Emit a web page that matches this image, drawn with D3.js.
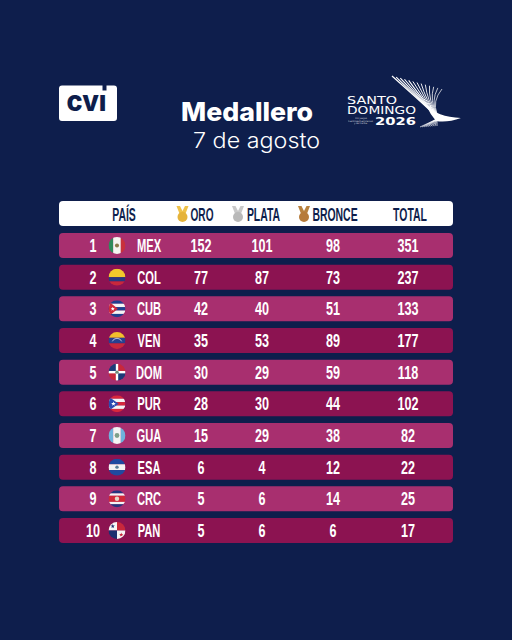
<!DOCTYPE html>
<html>
<head>
<meta charset="utf-8">
<script src="https://cdn.jsdelivr.net/npm/d3@7"></script>
<style>
  html, body { margin: 0; padding: 0; background: #0e1e4c; }
  svg { display: block; }
  .cond { font-family: "Liberation Sans", sans-serif; font-weight: 700; }
</style>
</head>
<body>
<svg id="chart" width="512" height="640"></svg>
<script>
// Table data
const ranks = [1, 2, 3, 4, 5, 6, 7, 8, 9, 10];
const countries = ["MEX", "COL", "CUB", "VEN", "DOM", "PUR", "GUA", "ESA", "CRC", "PAN"];
const oro = [152, 77, 42, 35, 30, 28, 15, 6, 5, 5];
const plata = [101, 87, 40, 53, 29, 30, 29, 4, 6, 6];
const bronce = [98, 73, 51, 89, 59, 44, 38, 12, 14, 6];
const total = [351, 237, 133, 177, 118, 102, 82, 22, 25, 17];
const columns = ["ORO", "PLATA", "BRONCE", "TOTAL"];

const svg = d3.select("#chart");
const navy = "#0e1e4c";

const rowY = d3.scaleBand().domain(countries).range([233, 543]).paddingInner(0.21);
const colX = d3.scaleOrdinal().domain(columns).range([201, 262, 333, 408]);

// condensed look: no narrow face installed, so squeeze in x
function cond(parent, x, y, str, size, fill, sx) {
  return parent.append("text")
    .attr("class", "cond")
    .attr("transform", `translate(${x},${y}) scale(${sx},1)`)
    .attr("text-anchor", "middle")
    .attr("font-size", size)
    .attr("fill", fill)
    .text(str);
}

// title
svg.append("text").attr("x", 247).attr("y", 121).attr("text-anchor", "middle")
  .attr("font-family", "Inter").attr("font-weight", 800).attr("font-size", 26)
  .attr("textLength", 132).attr("lengthAdjust", "spacingAndGlyphs")
  .attr("fill", "#fff").text("Medallero");
svg.append("text").attr("x", 256.5).attr("y", 148).attr("text-anchor", "middle")
  .attr("font-family", "Inter").attr("font-weight", 300).attr("font-size", 21.5)
  .attr("textLength", 127).attr("lengthAdjust", "spacingAndGlyphs")
  .attr("fill", "#fff").text("7 de agosto");

// cvi logo
svg.append("path")
  .attr("d", "M62,85.5H102.5v5h4v-5h7.5a3,3 0 0 1 3,3V118a3,3 0 0 1 -3,3H62a3,3 0 0 1 -3,-3V88.5a3,3 0 0 1 3,-3Z")
  .attr("fill", "#fff");
svg.append("text").attr("x", 86.5).attr("y", 110.5).attr("text-anchor", "middle")
  .attr("font-family", "Inter").attr("font-weight", 800).attr("font-size", 28)
  .attr("textLength", 40).attr("lengthAdjust", "spacingAndGlyphs")
  .attr("fill", navy).text("cvı");

// Santo Domingo logo
const logo = svg.append("g");
const logoFont = (x, y, str, size, w) => logo.append("text").attr("x", x).attr("y", y)
  .attr("font-family", "DejaVu Sans").attr("font-size", size)
  .attr("textLength", w).attr("lengthAdjust", "spacingAndGlyphs")
  .attr("fill", "#fff").text(str);
logoFont(347, 104, "SANTO", 9.6, 50);
logoFont(347, 114, "DOMINGO", 9.6, 69);
logo.append("text").attr("x", 375).attr("y", 125).attr("font-family", "DejaVu Sans").attr("font-weight", 700)
  .attr("font-size", 11).attr("textLength", 41).attr("lengthAdjust", "spacingAndGlyphs")
  .attr("fill", "#fff").text("2026");
logoFont(355, 119, "XIV Juegos", 2.2, 12).attr("opacity", 0.75);
logoFont(348, 121.5, "Centroamericanos", 2.2, 25).attr("opacity", 0.75);
logoFont(354, 124, "y del Caribe", 2.2, 13).attr("opacity", 0.75);

// fan strokes of the logo
d3.range(0, 1.001, 1 / 12).forEach(t => {
  const sx = 392 + t * 50, sy = 76 + t * 13;
  logo.append("path")
    .attr("d", `M${sx},${sy}Q${418 + t * 14},${99 + t * 2} ${434 + t * 3},${114}`)
    .attr("stroke", "#fff").attr("stroke-width", 1.2 - t * 0.5).attr("fill", "none");
});
logo.append("path").attr("d", "M426,105Q437,117 461,118Q447,123 436,121Q430,114 426,105Z").attr("fill", "#fff");
d3.range(0, 1.001, 1 / 8).forEach(t => {
  logo.append("path")
    .attr("d", `M${437},${119}L${420 + t * 17},${127 - t * 1}`)
    .attr("stroke", "#fff").attr("stroke-width", 0.7).attr("fill", "none");
});

// header bar
svg.append("rect").attr("x", 59).attr("y", 201).attr("width", 394).attr("height", 25).attr("rx", 4).attr("fill", "#fff");
cond(svg, 124, 220.5, "PAÍS", 18, navy, 0.58);
cond(svg, 202, 220.5, "ORO", 18, navy, 0.56);
cond(svg, 263.5, 220.5, "PLATA", 18, navy, 0.58);
cond(svg, 335, 220.5, "BRONCE", 18, navy, 0.58);
cond(svg, 410, 220.5, "TOTAL", 18, navy, 0.58);

function medal(cx, color, ribbon) {
  const g = svg.append("g").attr("transform", `translate(${cx},${214})`);
  g.append("path").attr("d", "M-6,-8H-2.5L0,-3L2.5,-8H6L2.5,1H-2.5Z").attr("fill", ribbon);
  g.append("circle").attr("cy", 3).attr("r", 5).attr("fill", color);
}
medal(182.5, "#e5b33a", "#efc24a");
medal(238, "#b9b9b9", "#c9c9c9");
medal(304, "#b67a3a", "#b8813f");

// flags, unit circle coordinates scaled by the radius
const flagR = 8.5;
function stripesH(g, cols, heights) {
  let y = -1;
  cols.forEach((c, i) => {
    g.append("rect").attr("x", -1).attr("y", y).attr("width", 2).attr("height", heights[i]).attr("fill", c);
    y += heights[i];
  });
}
function stripesV(g, cols, widths) {
  let x = -1;
  cols.forEach((c, i) => {
    g.append("rect").attr("x", x).attr("y", -1).attr("width", widths[i]).attr("height", 2).attr("fill", c);
    x += widths[i];
  });
}
function star(g, x, y, r, fill) {
  const pts = d3.range(10).map(i => {
    const a = -Math.PI / 2 + i * Math.PI / 5, q = i % 2 ? r * 0.42 : r;
    return [x + q * Math.cos(a), y + q * Math.sin(a)];
  });
  g.append("polygon").attr("points", pts.join(" ")).attr("fill", fill);
}
function emblem(g, fill, r) {
  g.append("circle").attr("r", r || 0.24).attr("fill", fill);
}
function quarters(g, cols) {
  g.append("rect").attr("x", -1).attr("y", -1).attr("width", 1).attr("height", 1).attr("fill", cols[0]);
  g.append("rect").attr("x", 0).attr("y", -1).attr("width", 1).attr("height", 1).attr("fill", cols[1]);
  g.append("rect").attr("x", -1).attr("y", 0).attr("width", 1).attr("height", 1).attr("fill", cols[2]);
  g.append("rect").attr("x", 0).attr("y", 0).attr("width", 1).attr("height", 1).attr("fill", cols[3]);
}
const flagDraw = {
  MEX: g => { stripesV(g, ["#2f8a5b", "#f6f4f0", "#c8303c"], [0.55, 0.9, 0.55]); emblem(g, "#8a7a4a"); },
  COL: g => stripesH(g, ["#f2c82c", "#27397f", "#c8283c"], [1, 0.5, 0.5]),
  CUB: g => {
    stripesH(g, ["#1f3f8f", "#f4f4f4", "#1f3f8f", "#f4f4f4", "#1f3f8f"], [0.4, 0.4, 0.4, 0.4, 0.4]);
    g.append("polygon").attr("points", "-1,-0.9 0.1,0 -1,0.9").attr("fill", "#d0283a");
    star(g, -0.5, 0, 0.26, "#fff");
  },
  VEN: g => {
    stripesH(g, ["#f2c02c", "#27408f", "#c8283c"], [0.68, 0.66, 0.66]);
    g.append("path").attr("d", "M-0.55,0.1A0.6,0.6 0 0 1 0.55,0.1").attr("fill", "none").attr("stroke", "#fff").attr("stroke-width", 0.08);
  },
  DOM: g => {
    quarters(g, ["#1d3a78", "#c8283c", "#c8283c", "#1d3a78"]);
    g.append("rect").attr("x", -1).attr("y", -0.14).attr("width", 2).attr("height", 0.28).attr("fill", "#fff");
    g.append("rect").attr("x", -0.14).attr("y", -1).attr("width", 0.28).attr("height", 2).attr("fill", "#fff");
    emblem(g, "#6f8a78", 0.2);
  },
  PUR: g => {
    stripesH(g, ["#d8283c", "#f4f4f4", "#d8283c", "#f4f4f4", "#d8283c"], [0.4, 0.4, 0.4, 0.4, 0.4]);
    g.append("polygon").attr("points", "-1,-0.85 0.2,0 -1,0.85").attr("fill", "#2b4bb0");
    star(g, -0.42, 0, 0.28, "#fff");
  },
  GUA: g => { stripesV(g, ["#6fb2dc", "#f4f4f4", "#6fb2dc"], [0.55, 0.9, 0.55]); emblem(g, "#7fa08a", 0.28); },
  ESA: g => { stripesH(g, ["#1f4aa0", "#f4f4f4", "#1f4aa0"], [0.66, 0.68, 0.66]); emblem(g, "#5a7f9a", 0.2); },
  CRC: g => {
    stripesH(g, ["#24357f", "#f4f4f4", "#d0283a", "#f4f4f4", "#24357f"], [0.36, 0.28, 0.72, 0.28, 0.36]);
    emblem(g, "#e6d8c8", 0.26);
  },
  PAN: g => {
    quarters(g, ["#f6f6f6", "#c8283c", "#1d2f70", "#f6f6f6"]);
    star(g, -0.5, -0.5, 0.26, "#1d2f70");
    star(g, 0.5, 0.5, 0.26, "#c8283c");
  }
};

// rows
const clip = svg.append("defs").append("clipPath").attr("id", "flagClip");
clip.append("circle").attr("r", 1);

countries.forEach((code, i) => {
  const y = rowY(code), mid = y + rowY.bandwidth() / 2, base = mid + 6.6;
  svg.append("rect").attr("x", 59).attr("y", y).attr("width", 394)
    .attr("height", rowY.bandwidth()).attr("rx", 4)
    .attr("fill", i % 2 ? "#8c1351" : "#a82f6f");

  cond(svg, 93, base, ranks[i], 18, "#fff", 0.7);
  cond(svg, 149, base, code, 18, "#fff", 0.62);

  const flag = svg.append("g")
    .attr("transform", `translate(117,${mid}) scale(${flagR})`)
    .attr("clip-path", "url(#flagClip)");
  flagDraw[code](flag);

  cond(svg, colX("ORO"), base, oro[i], 18, "#fff", 0.7);
  cond(svg, colX("PLATA"), base, plata[i], 18, "#fff", 0.7);
  cond(svg, colX("BRONCE"), base, bronce[i], 18, "#fff", 0.7);
  cond(svg, colX("TOTAL"), base, total[i], 18, "#fff", 0.7);
});
</script>
</body>
</html>
